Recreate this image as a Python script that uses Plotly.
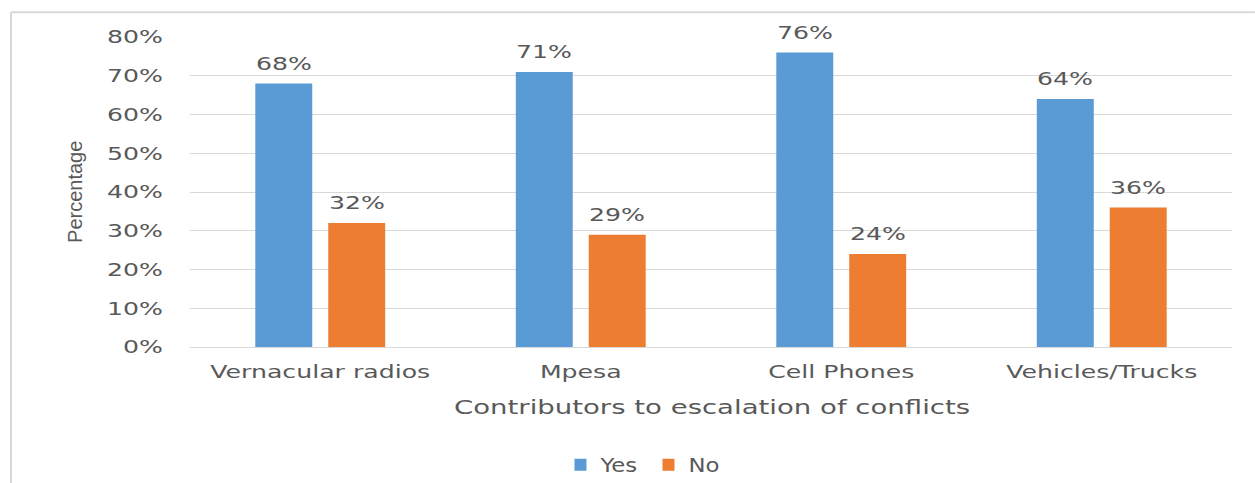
import plotly.graph_objects as go

categories = ["Vernacular radios", "Mpesa", "Cell Phones", "Vehicles/Trucks"]
yes_values = [68, 71, 76, 64]
no_values = [32, 29, 24, 36]
series_names = ["Yes", "No"]
y_ticks = [0, 10, 20, 30, 40, 50, 60, 70, 80]
y_tick_labels = [f"{v}%" for v in y_ticks]

BLUE = "#5B9BD5"
ORANGE = "#ED7D31"
TEXT = "#595959"
BORDER = "#D9D9D9"
FONT = "DejaVu Sans"

fig = go.Figure()
fig.add_trace(go.Bar(name=series_names[0], x=categories, y=yes_values,
                     marker=dict(color=BLUE, line=dict(width=0))))
fig.add_trace(go.Bar(name=series_names[1], x=categories, y=no_values,
                     marker=dict(color=ORANGE, line=dict(width=0))))

annotations = []
for vals, shift in ((yes_values, -36.5), (no_values, 36.5)):
    for c, v in zip(categories, vals):
        annotations.append(dict(x=c, y=v, xref="x", yref="y", text=f"{v}%",
                                showarrow=False, xshift=shift, yshift=8,
                                yanchor="bottom",
                                font=dict(family=FONT, size=18, color=TEXT)))

annotations.append(dict(x=0.501, y=-0.194, xref="paper", yref="paper",
                        text="Contributors to escalation of conflicts",
                        showarrow=False, yanchor="middle",
                        font=dict(family=FONT, size=19, color=TEXT)))
annotations.append(dict(x=-0.1104, y=0.5, xref="paper", yref="paper",
                        text="Percentage", textangle=-90, showarrow=False,
                        xanchor="center", yanchor="middle",
                        font=dict(family="Liberation Sans", size=20, color=TEXT)))

# chart-area border (top and left edges only are inside the picture)
x_left, x_right = -0.1718, 1.0220
y_top, y_bottom = 1.080, -0.4810
shapes = [
    dict(type="line", xref="paper", yref="paper", x0=x_left, x1=x_right,
         y0=y_top, y1=y_top, line=dict(color=BORDER, width=2), layer="below"),
    dict(type="line", xref="paper", yref="paper", x0=x_left, x1=x_left,
         y0=y_top, y1=y_bottom, line=dict(color=BORDER, width=2), layer="below"),
]

fig.update_layout(
    width=1255, height=496,
    margin=dict(l=190, r=23, t=37, b=149),
    paper_bgcolor="white", plot_bgcolor="white",
    barmode="group", bargap=0.44, bargroupgap=0.219,
    font=dict(family=FONT, color=TEXT),
    showlegend=True,
    legend=dict(orientation="h", x=0.44, xanchor="center", y=-0.380,
                yanchor="middle", font=dict(family=FONT, size=19, color=TEXT),
                itemwidth=30, entrywidth=43, traceorder="normal"),
    annotations=annotations,
    shapes=shapes,
)
fig.update_xaxes(showgrid=False, showline=True, linecolor=BORDER, linewidth=1,
                 tickfont=dict(family=FONT, size=18, color=TEXT),
                 ticks="", ticklabelstandoff=8)
fig.update_yaxes(range=[0, 80], tickvals=y_ticks, ticktext=y_tick_labels,
                 showgrid=True, gridcolor=BORDER, gridwidth=1,
                 zeroline=False, showline=False, ticks="",
                 tickfont=dict(family=FONT, size=18, color=TEXT),
                 ticklabelstandoff=26)

# Remove the page margin/scrollbars and widen the glyphs horizontally like the reference
post_js = """
document.documentElement.style.overflow = 'hidden';
document.body.style.margin = '0';
document.body.style.overflow = 'hidden';
function widen(el, s) {
  var x = parseFloat(el.getAttribute('x') || '0');
  var t = el.getAttribute('transform') || '';
  el.setAttribute('transform', t + ' translate(' + x + ',0) scale(' + s + ',1) translate(' + (-x) + ',0)');
}
var gd = document.getElementsByClassName('plotly-graph-div')[0];
gd.style.display = 'block';
gd.querySelectorAll('.xtick text, .ytick text').forEach(function(el){ widen(el, 1.4); });
gd.querySelectorAll('.legendtext').forEach(function(el){ widen(el, 1.2); });
gd.querySelectorAll('text.annotation-text').forEach(function(el){
  var txt = el.textContent;
  if (txt === 'Percentage') return;
  if (txt.indexOf('Contributors') === 0) { widen(el, 1.45); } else { widen(el, 1.4); }
});
"""

fig.write_html("out.html", post_script=post_js, config={"displayModeBar": False})
